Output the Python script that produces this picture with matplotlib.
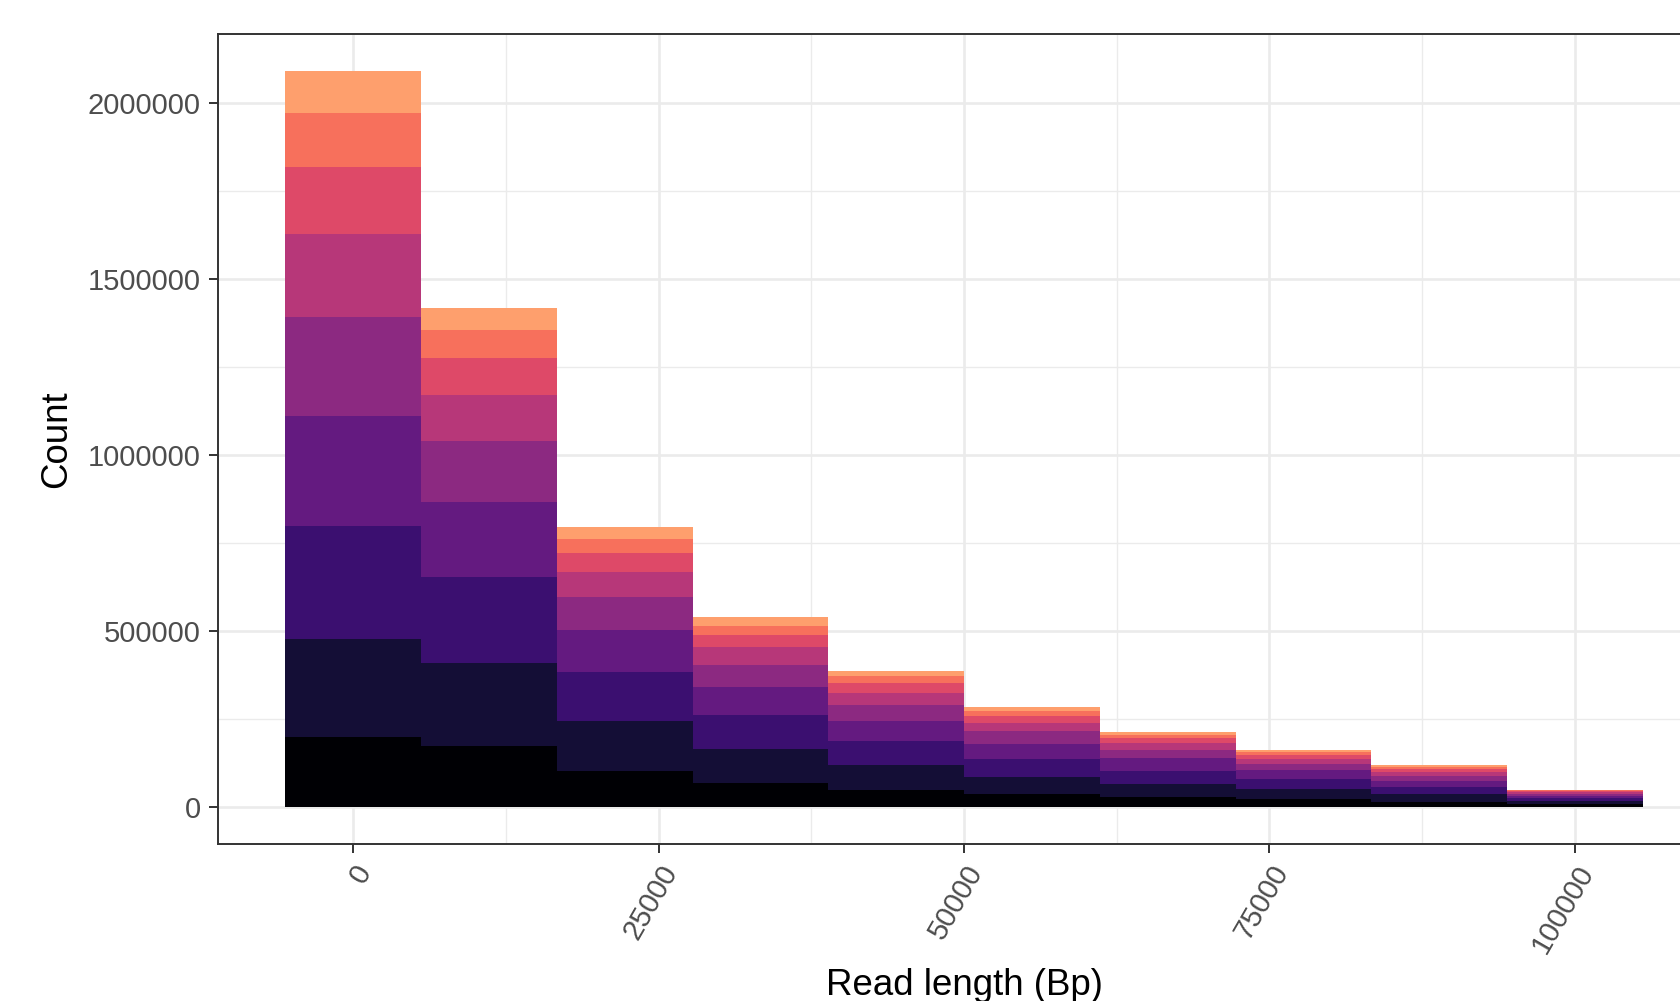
"""
Read length distribution

Stacked histogram of read lengths, ten bins, nine magma groups.
"""

import numpy as np
import matplotlib
matplotlib.use("Agg")
import matplotlib.pyplot as plt

plt.rcParams["font.family"] = ["Liberation Sans", "DejaVu Sans"]

#
# -------------------------------------------------------------
# Data (counts per bin, bottom group first)
# -------------------------------------------------------------
#

bin_centers = [0, 11111, 22222, 33333, 44444, 55556, 66667, 77778, 88889, 100000]
bin_width = 11111

group_1 = [197500, 172000, 101000, 69000, 49000, 36000, 27000, 22000, 15000, 7000]
group_2 = [280000, 235500, 142000, 97000, 71000, 50000, 38000, 28000, 21000, 9000]
group_3 = [321500, 245000, 140000, 96000, 68000, 51000, 38000, 29000, 21000, 9000]
group_4 = [312000, 212500, 120000, 79000, 57000, 43000, 36000, 25000, 18000, 7000]
group_5 = [280000, 173500, 93000, 63000, 44000, 35000, 22000, 18000, 13000, 5000]
group_6 = [236000, 130500, 70000, 49000, 35000, 23000, 21000, 15000, 11000, 4500]
group_7 = [190000, 105000, 56500, 34000, 27000, 19000, 14000, 10000, 8000, 3000]
group_8 = [154500, 80000, 38500, 28000, 22000, 16000, 9000, 8000, 6500, 2500]
group_9 = [118500, 63500, 35000, 24000, 12000, 10000, 7000, 6500, 4500, 2000]

groups = [group_1, group_2, group_3, group_4, group_5,
          group_6, group_7, group_8, group_9]

x_ticks = [0, 25000, 50000, 75000, 100000]
x_minor = [12500, 37500, 62500, 87500]
y_ticks = [0, 500000, 1000000, 1500000, 2000000]
y_minor = [250000, 750000, 1250000, 1750000]

#
# -------------------------------------------------------------
# Figure
# -------------------------------------------------------------
#

fig = plt.figure(figsize=(16.81, 10.01), dpi=100)

# panel runs past the right edge of the picture, as in the source image
ax = fig.add_axes([0.1294, 0.1571, 0.8882, 0.8086])

colors = plt.cm.magma(np.linspace(0.0, 0.8, len(groups)))

bottom = np.zeros(len(bin_centers))

for values, color in zip(groups, colors):

    ax.bar(
        bin_centers,
        values,
        width=bin_width,
        bottom=bottom,
        color=color,
        linewidth=0,
        zorder=3
    )

    bottom += np.array(values)

#
# -------------------------------------------------------------
# Axes
# -------------------------------------------------------------
#

top = bottom.max()
span = bin_centers[-1] - bin_centers[0] + bin_width

ax.set_xlim(bin_centers[0] - bin_width / 2 - 0.05 * span,
            bin_centers[-1] + bin_width / 2 + 0.05 * span)
ax.set_ylim(-0.05 * top, 1.05 * top)

ax.set_xticks(x_ticks)
ax.set_xticks(x_minor, minor=True)
ax.set_yticks(y_ticks)
ax.set_yticks(y_minor, minor=True)

ax.set_xticklabels([str(v) for v in x_ticks], rotation=60,
                   ha="right", va="top", rotation_mode="anchor")
ax.set_yticklabels([str(v) for v in y_ticks])

ax.grid(True, which="major", color="#EBEBEB", linewidth=1.9, zorder=0)
ax.grid(True, which="minor", color="#EBEBEB", linewidth=1.0, zorder=0)
ax.set_axisbelow(True)

ax.tick_params(which="major", length=6.6, width=1.4, color="#333333",
               labelsize=21, labelcolor="#4D4D4D", pad=5.3)
ax.tick_params(which="minor", length=0)

for spine in ax.spines.values():
    spine.set_color("#333333")
    spine.set_linewidth(1.4)

ax.set_xlabel("Read length (Bp)", fontsize=26.4, labelpad=7)
ax.set_ylabel("Count", fontsize=26.4, labelpad=10)

fig.savefig("out.png", dpi=100)
